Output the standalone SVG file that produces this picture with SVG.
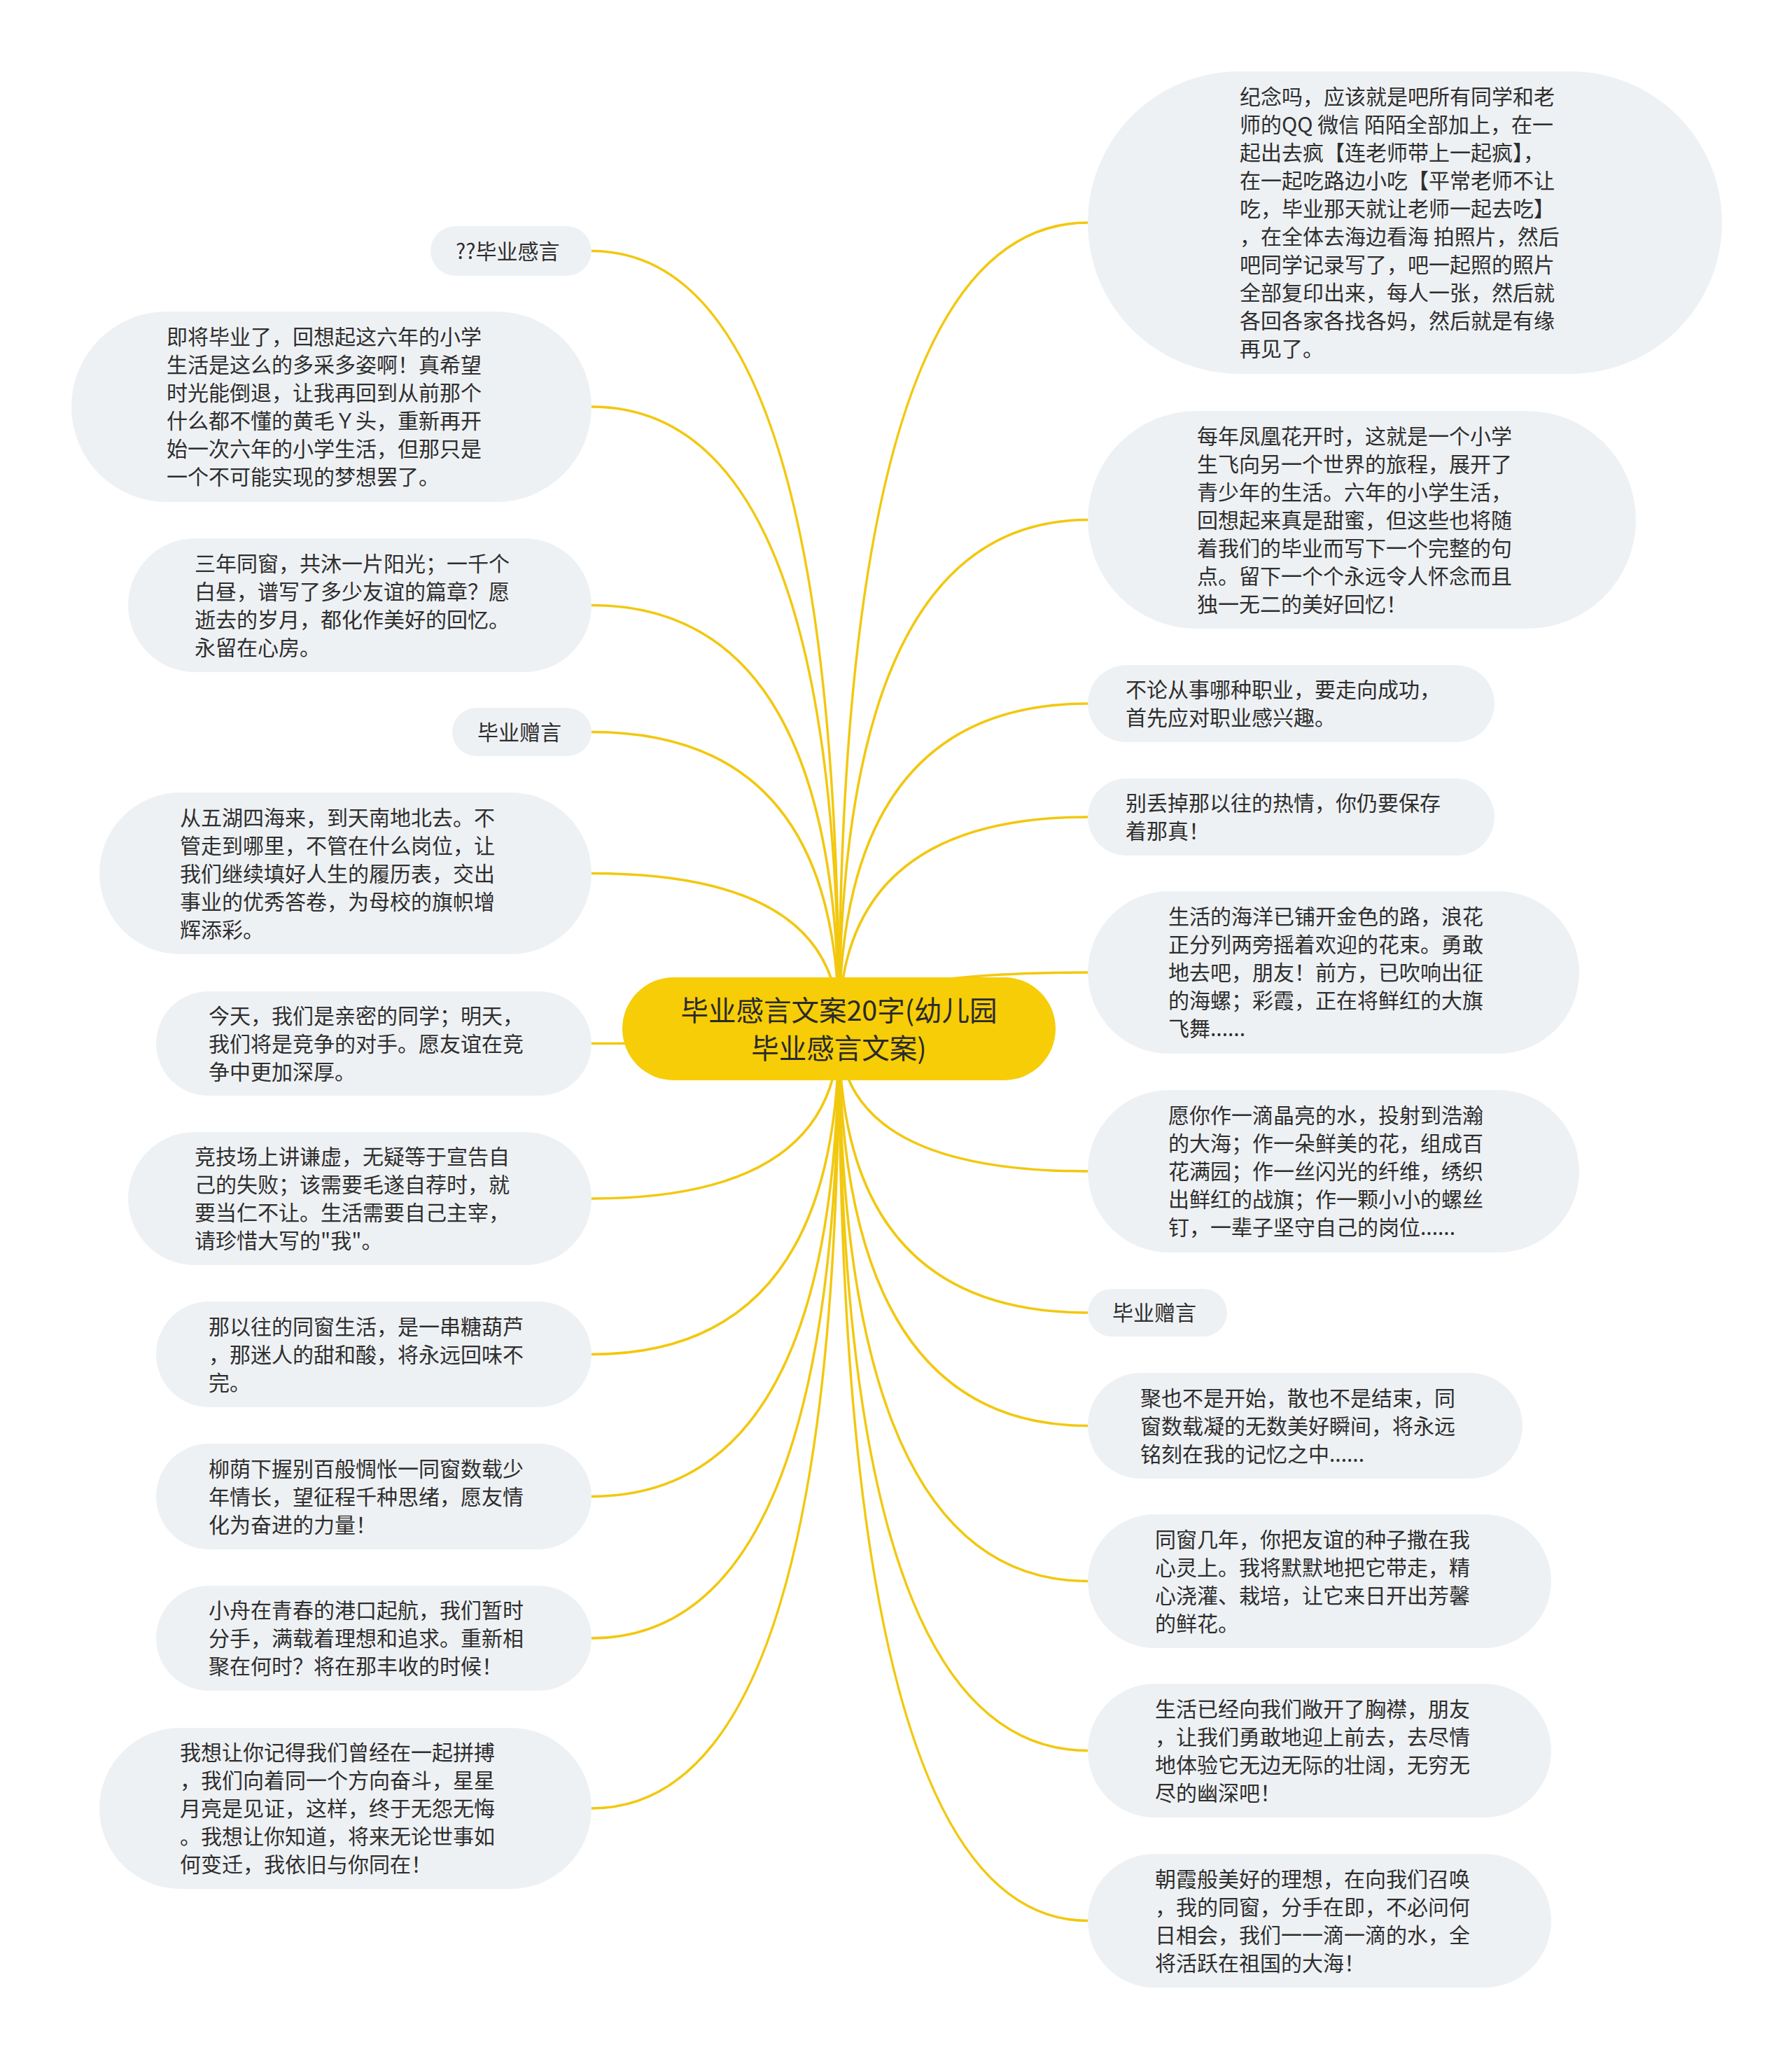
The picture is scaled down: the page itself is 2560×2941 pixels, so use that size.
<svg xmlns="http://www.w3.org/2000/svg" width="2560" height="2941" viewBox="0 0 2560 2941">
<style>
.bg{fill:#ffffff}
.n{fill:#EEF1F4}
.root{fill:#F6CD07}
.t{font-family:"Noto Sans CJK SC","Noto Sans",sans-serif;font-size:30px;fill:#2e2e2e}
.rt{font-family:"Noto Sans CJK SC","Noto Sans",sans-serif;font-size:39.5px;fill:#2a2a2a;text-anchor:middle}
.c{fill:none;stroke:#F2C80F;stroke-width:3.5}
</style>
<rect class="bg" x="0" y="0" width="2560" height="2941"/>
<g id="connectors">
<path class="c" d="M1198.5 1469.5 Q1198.5 358.5 845 358.5"/>
<path class="c" d="M1198.5 1469.5 Q1198.5 581 845 581"/>
<path class="c" d="M1198.5 1469.5 Q1198.5 864.5 845 864.5"/>
<path class="c" d="M1198.5 1469.5 Q1198.5 1045.5 845 1045.5"/>
<path class="c" d="M1198.5 1469.5 Q1198.5 1247.5 845 1247.5"/>
<path class="c" d="M1198.5 1469.5 Q1198.5 1490.5 845 1490.5"/>
<path class="c" d="M1198.5 1469.5 Q1198.5 1712 845 1712"/>
<path class="c" d="M1198.5 1469.5 Q1198.5 1934.5 845 1934.5"/>
<path class="c" d="M1198.5 1469.5 Q1198.5 2137.5 845 2137.5"/>
<path class="c" d="M1198.5 1469.5 Q1198.5 2340 845 2340"/>
<path class="c" d="M1198.5 1469.5 Q1198.5 2583 845 2583"/>
<path class="c" d="M1198.5 1469.5 Q1198.5 318 1554 318"/>
<path class="c" d="M1198.5 1469.5 Q1198.5 742.5 1554 742.5"/>
<path class="c" d="M1198.5 1469.5 Q1198.5 1005 1554 1005"/>
<path class="c" d="M1198.5 1469.5 Q1198.5 1167 1554 1167"/>
<path class="c" d="M1198.5 1469.5 Q1198.5 1389 1554 1389"/>
<path class="c" d="M1198.5 1469.5 Q1198.5 1673 1554 1673"/>
<path class="c" d="M1198.5 1469.5 Q1198.5 1875 1554 1875"/>
<path class="c" d="M1198.5 1469.5 Q1198.5 2036.5 1554 2036.5"/>
<path class="c" d="M1198.5 1469.5 Q1198.5 2258.5 1554 2258.5"/>
<path class="c" d="M1198.5 1469.5 Q1198.5 2500.5 1554 2500.5"/>
<path class="c" d="M1198.5 1469.5 Q1198.5 2743.5 1554 2743.5"/>
</g>
<g id="root">
<rect class="root" x="889" y="1396" width="619" height="147" rx="73.5"/>
<text class="rt" x="1198.5" y="1457.5">毕业感言文案20字(幼儿园</text>
<text class="rt" x="1198.5" y="1511.5">毕业感言文案)</text>
</g>
<g id="L1">
<rect class="n" x="615" y="323" width="230" height="71" rx="35.5"/>
<text class="t" x="651" y="369.5">??毕业感言</text>
</g>
<g id="L2">
<rect class="n" x="102" y="445" width="743" height="272" rx="136"/>
<text class="t" x="238"><tspan x="238" y="492">即将毕业了，回想起这六年的小学</tspan><tspan x="238" y="532">生活是这么的多采多姿啊！真希望</tspan><tspan x="238" y="572">时光能倒退，让我再回到从前那个</tspan><tspan x="238" y="612">什么都不懂的黄毛Ｙ头，重新再开</tspan><tspan x="238" y="652">始一次六年的小学生活，但那只是</tspan><tspan x="238" y="692">一个不可能实现的梦想罢了。</tspan></text>
</g>
<g id="L3">
<rect class="n" x="183" y="769" width="662" height="191" rx="95.5"/>
<text class="t"><tspan x="278" y="815.5">三年同窗，共沐一片阳光；一千个</tspan><tspan x="278" y="855.5">白昼，谱写了多少友谊的篇章？愿</tspan><tspan x="278" y="895.5">逝去的岁月，都化作美好的回忆。</tspan><tspan x="278" y="935.5">永留在心房。</tspan></text>
</g>
<g id="L4">
<rect class="n" x="646" y="1011" width="199" height="69" rx="34.5"/>
<text class="t" x="682" y="1056.5">毕业赠言</text>
</g>
<g id="L5">
<rect class="n" x="142" y="1132" width="703" height="231" rx="115.5"/>
<text class="t"><tspan x="257" y="1178.5">从五湖四海来，到天南地北去。不</tspan><tspan x="257" y="1218.5">管走到哪里，不管在什么岗位，让</tspan><tspan x="257" y="1258.5">我们继续填好人生的履历表，交出</tspan><tspan x="257" y="1298.5">事业的优秀答卷，为母校的旗帜增</tspan><tspan x="257" y="1338.5">辉添彩。</tspan></text>
</g>
<g id="L6">
<rect class="n" x="223" y="1416" width="622" height="149" rx="74.5"/>
<text class="t"><tspan x="298" y="1461.5">今天，我们是亲密的同学；明天，</tspan><tspan x="298" y="1501.5">我们将是竞争的对手。愿友谊在竞</tspan><tspan x="298" y="1541.5">争中更加深厚。</tspan></text>
</g>
<g id="L7">
<rect class="n" x="183" y="1617" width="662" height="190" rx="95"/>
<text class="t"><tspan x="278" y="1663">竞技场上讲谦虚，无疑等于宣告自</tspan><tspan x="278" y="1703">己的失败；该需要毛遂自荐时，就</tspan><tspan x="278" y="1743">要当仁不让。生活需要自己主宰，</tspan><tspan x="278" y="1783">请珍惜大写的"我"。</tspan></text>
</g>
<g id="L8">
<rect class="n" x="223" y="1859" width="622" height="151" rx="75.5"/>
<text class="t"><tspan x="298" y="1905.5">那以往的同窗生活，是一串糖葫芦</tspan><tspan x="298" y="1945.5">，那迷人的甜和酸，将永远回味不</tspan><tspan x="298" y="1985.5">完。</tspan></text>
</g>
<g id="L9">
<rect class="n" x="223" y="2062" width="622" height="151" rx="75.5"/>
<text class="t"><tspan x="298" y="2108.5">柳荫下握别百般惆怅一同窗数载少</tspan><tspan x="298" y="2148.5">年情长，望征程千种思绪，愿友情</tspan><tspan x="298" y="2188.5">化为奋进的力量！</tspan></text>
</g>
<g id="L10">
<rect class="n" x="223" y="2265" width="622" height="150" rx="75"/>
<text class="t"><tspan x="298" y="2311">小舟在青春的港口起航，我们暂时</tspan><tspan x="298" y="2351">分手，满载着理想和追求。重新相</tspan><tspan x="298" y="2391">聚在何时？将在那丰收的时候！</tspan></text>
</g>
<g id="L11">
<rect class="n" x="142" y="2468" width="703" height="230" rx="115"/>
<text class="t"><tspan x="257" y="2514">我想让你记得我们曾经在一起拼搏</tspan><tspan x="257" y="2554">，我们向着同一个方向奋斗，星星</tspan><tspan x="257" y="2594">月亮是见证，这样，终于无怨无悔</tspan><tspan x="257" y="2634">。我想让你知道，将来无论世事如</tspan><tspan x="257" y="2674">何变迁，我依旧与你同在！</tspan></text>
</g>
<g id="R1">
<rect class="n" x="1554" y="102" width="906" height="432" rx="216"/>
<text class="t"><tspan x="1771" y="149">纪念吗，应该就是吧所有同学和老</tspan><tspan x="1771" y="189">师的QQ 微信 陌陌全部加上，在一</tspan><tspan x="1771" y="229">起出去疯【连老师带上一起疯】，</tspan><tspan x="1771" y="269">在一起吃路边小吃【平常老师不让</tspan><tspan x="1771" y="309">吃，毕业那天就让老师一起去吃】</tspan><tspan x="1771" y="349">，在全体去海边看海 拍照片，然后</tspan><tspan x="1771" y="389">吧同学记录写了，吧一起照的照片</tspan><tspan x="1771" y="429">全部复印出来，每人一张，然后就</tspan><tspan x="1771" y="469">各回各家各找各妈，然后就是有缘</tspan><tspan x="1771" y="509">再见了。</tspan></text>
</g>
<g id="R2">
<rect class="n" x="1554" y="587" width="783" height="311" rx="155.5"/>
<text class="t"><tspan x="1710" y="633.5">每年凤凰花开时，这就是一个小学</tspan><tspan x="1710" y="673.5">生飞向另一个世界的旅程，展开了</tspan><tspan x="1710" y="713.5">青少年的生活。六年的小学生活，</tspan><tspan x="1710" y="753.5">回想起来真是甜蜜，但这些也将随</tspan><tspan x="1710" y="793.5">着我们的毕业而写下一个完整的句</tspan><tspan x="1710" y="833.5">点。留下一个个永远令人怀念而且</tspan><tspan x="1710" y="873.5">独一无二的美好回忆！</tspan></text>
</g>
<g id="R3">
<rect class="n" x="1554" y="950" width="581" height="110" rx="55"/>
<text class="t"><tspan x="1608" y="996">不论从事哪种职业，要走向成功，</tspan><tspan x="1608" y="1036">首先应对职业感兴趣。</tspan></text>
</g>
<g id="R4">
<rect class="n" x="1554" y="1112" width="581" height="110" rx="55"/>
<text class="t"><tspan x="1608" y="1158">别丢掉那以往的热情，你仍要保存</tspan><tspan x="1608" y="1198">着那真！</tspan></text>
</g>
<g id="R5">
<rect class="n" x="1554" y="1273" width="702" height="232" rx="116"/>
<text class="t"><tspan x="1669" y="1320">生活的海洋已铺开金色的路，浪花</tspan><tspan x="1669" y="1360">正分列两旁摇着欢迎的花束。勇敢</tspan><tspan x="1669" y="1400">地去吧，朋友！前方，已吹响出征</tspan><tspan x="1669" y="1440">的海螺；彩霞，正在将鲜红的大旗</tspan><tspan x="1669" y="1480">飞舞......</tspan></text>
</g>
<g id="R6">
<rect class="n" x="1554" y="1557" width="702" height="232" rx="116"/>
<text class="t"><tspan x="1669" y="1604">愿你作一滴晶亮的水，投射到浩瀚</tspan><tspan x="1669" y="1644">的大海；作一朵鲜美的花，组成百</tspan><tspan x="1669" y="1684">花满园；作一丝闪光的纤维，绣织</tspan><tspan x="1669" y="1724">出鲜红的战旗；作一颗小小的螺丝</tspan><tspan x="1669" y="1764">钉，一辈子坚守自己的岗位......</tspan></text>
</g>
<g id="R7">
<rect class="n" x="1554" y="1841" width="199" height="68" rx="34"/>
<text class="t" x="1589" y="1886">毕业赠言</text>
</g>
<g id="R8">
<rect class="n" x="1554" y="1961" width="621" height="151" rx="75.5"/>
<text class="t"><tspan x="1629" y="2007.5">聚也不是开始，散也不是结束，同</tspan><tspan x="1629" y="2047.5">窗数载凝的无数美好瞬间，将永远</tspan><tspan x="1629" y="2087.5">铭刻在我的记忆之中......</tspan></text>
</g>
<g id="R9">
<rect class="n" x="1554" y="2163" width="662" height="191" rx="95.5"/>
<text class="t"><tspan x="1650" y="2209.5">同窗几年，你把友谊的种子撒在我</tspan><tspan x="1650" y="2249.5">心灵上。我将默默地把它带走，精</tspan><tspan x="1650" y="2289.5">心浇灌、栽培，让它来日开出芳馨</tspan><tspan x="1650" y="2329.5">的鲜花。</tspan></text>
</g>
<g id="R10">
<rect class="n" x="1554" y="2405" width="662" height="191" rx="95.5"/>
<text class="t"><tspan x="1650" y="2451.5">生活已经向我们敞开了胸襟，朋友</tspan><tspan x="1650" y="2491.5">，让我们勇敢地迎上前去，去尽情</tspan><tspan x="1650" y="2531.5">地体验它无边无际的壮阔，无穷无</tspan><tspan x="1650" y="2571.5">尽的幽深吧！</tspan></text>
</g>
<g id="R11">
<rect class="n" x="1554" y="2648" width="662" height="191" rx="95.5"/>
<text class="t"><tspan x="1650" y="2694.5">朝霞般美好的理想，在向我们召唤</tspan><tspan x="1650" y="2734.5">，我的同窗，分手在即，不必问何</tspan><tspan x="1650" y="2774.5">日相会，我们一一滴一滴的水，全</tspan><tspan x="1650" y="2814.5">将活跃在祖国的大海！</tspan></text>
</g>
</svg>
